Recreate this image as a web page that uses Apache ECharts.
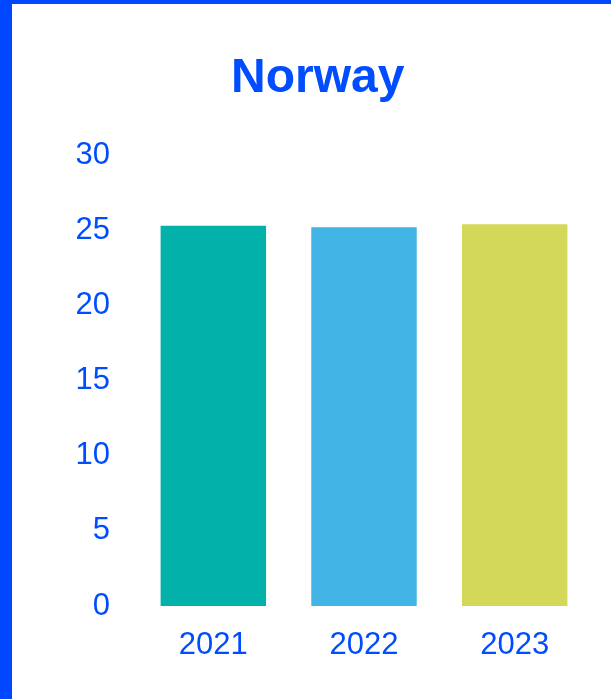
<!DOCTYPE html>
<html>
<head>
<meta charset="utf-8">
<script src="https://cdn.jsdelivr.net/npm/echarts@6/dist/echarts.min.js"></script>
<style>
  html, body { margin: 0; padding: 0; background: #fff; }
  #frame {
    width: 611px; height: 699px; box-sizing: border-box;
    border-left: 12px solid #0047ff; border-top: 4px solid #0047ff;
  }
  #chart { width: 599px; height: 695px; }
</style>
</head>
<body>
<div id="frame"><div id="chart"></div></div>
<script>
// data
const years = ['2021', '2022', '2023'];
const values = [25.3, 25.2, 25.4];
const barColors = ['#02b2aa', '#42b4e5', '#d4d858'];

const textBlue = '#004cff';
const font = '"Liberation Sans", Arial, sans-serif';

const chart = echarts.init(document.getElementById('chart'));

chart.setOption({
    animation: false,
    backgroundColor: '#fff',
    title: {
        text: 'Norway',
        left: 214,
        top: 46,
        textStyle: { color: textBlue, fontSize: 48, fontWeight: 'bold', fontFamily: font }
    },
    grid: { left: 126, right: 21, top: 151, bottom: 93, containLabel: false },
    xAxis: {
        type: 'category',
        data: years,
        axisLine: { show: false },
        axisTick: { show: false },
        axisLabel: { color: textBlue, fontSize: 31, fontFamily: font, margin: 24 }
    },
    yAxis: {
        type: 'value',
        min: 0, max: 30, interval: 5,
        splitLine: { show: false },
        axisLine: { show: false },
        axisTick: { show: false },
        axisLabel: { color: textBlue, fontSize: 31, fontFamily: font, margin: 28 }
    },
    series: [{
        type: 'bar',
        barWidth: '70%',
        data: values.map((v, i) => ({ value: v, itemStyle: { color: barColors[i] } }))
    }]
});

window.addEventListener('resize', () => chart.resize());
</script>
</body>
</html>
